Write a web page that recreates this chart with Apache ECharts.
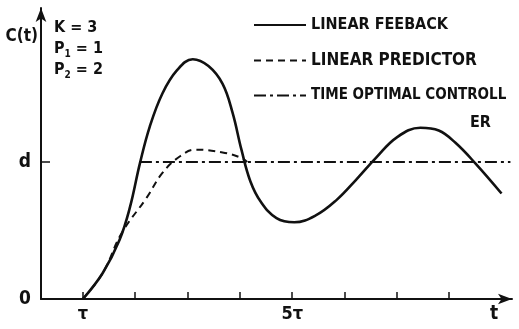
<!DOCTYPE html>
<html>
<head>
<meta charset="utf-8">
<script src="https://cdn.jsdelivr.net/npm/echarts@6/dist/echarts.min.js"></script>
<style>
  html, body { margin: 0; padding: 0; background: #fff; }
  #chart { width: 519px; height: 329px; }
</style>
</head>
<body>
<div id="chart"></div>
<script>
// t in units of tau, response in units of d
const feedback = [
  [1.0, 0], [1.38, 0.19], [1.70, 0.43], [1.90, 0.67], [2.09, 0.99], [2.28, 1.26],
  [2.52, 1.50], [2.80, 1.67], [3.10, 1.75], [3.40, 1.70], [3.67, 1.57], [3.86, 1.36],
  [4.03, 1.09], [4.20, 0.86], [4.40, 0.71], [4.70, 0.59], [5.04, 0.56], [5.45, 0.61],
  [5.84, 0.72], [6.22, 0.87], [6.60, 1.03], [7.00, 1.18], [7.45, 1.25], [7.80, 1.23],
  [8.12, 1.14], [8.50, 0.99], [9.0, 0.77]
];
const predictor = [
  [1.0, 0], [1.38, 0.19], [1.74, 0.48], [2.22, 0.74], [2.52, 0.92], [2.85, 1.04],
  [3.15, 1.09], [3.67, 1.07], [4.03, 1.03], [4.14, 1.0]
];
const timeOptimal = [[2.09, 1], [9.17, 1]];

const xTicks = [1, 2, 3, 4, 5, 6, 7, 8];
const xLabels = [1, 5];
const yLabels = [0, 1];

const FONT = '"DejaVu Sans Condensed", "Liberation Sans Narrow", sans-serif';
const INK = '#111';

const chart = echarts.init(document.getElementById('chart'));
chart.setOption({
  backgroundColor: '#fff',
  animation: false,
  title: {
    left: 49,
    top: 12,
    text: 'K = 3\nP{s|1} = 1\nP{s|2} = 2',
    textStyle: {
      fontFamily: FONT, fontSize: 16, fontWeight: 'bold', color: INK, lineHeight: 21,
      rich: { s: { fontFamily: FONT, fontSize: 10, fontWeight: 'bold', color: INK, verticalAlign: 'bottom', padding: [8, 0, 0, 0] } }
    }
  },
  legend: {
    orient: 'vertical',
    left: 253,
    top: 17,
    padding: 0,
    itemWidth: 52,
    itemHeight: 14,
    itemGap: 19,
    itemStyle: { opacity: 0 },
    textStyle: { fontFamily: FONT, fontSize: 16, fontWeight: 'bold', color: INK },
    data: [
      { name: 'LINEAR FEEBACK' },
      { name: 'LINEAR PREDICTOR', textStyle: { fontSize: 17 } },
      { name: 'TIME OPTIMAL CONTROLL', textStyle: { fontSize: 15 } }
    ]
  },
  graphic: [
    { type: 'text', left: 470, top: 115, style: { text: 'ER', fontFamily: FONT, fontSize: 16, fontWeight: 'bold', fill: INK } }
  ],
  grid: { left: 41, right: 7, top: 8, bottom: 30 },
  xAxis: {
    type: 'value',
    min: 0.2,
    max: 9.2,
    name: 't',
    nameLocation: 'end',
    nameGap: -22,
    nameTextStyle: { fontFamily: FONT, fontSize: 19, fontWeight: 'bold', color: INK, verticalAlign: 'top', padding: [6, 0, 0, 0] },
    axisLine: { lineStyle: { color: INK, width: 2 }, symbol: ['none', 'arrow'], symbolSize: [8, 14] },
    axisTick: { show: true, inside: true, length: 7, lineStyle: { color: INK, width: 1.5 }, customValues: xTicks },
    axisLabel: {
      customValues: xLabels,
      margin: 6,
      fontFamily: FONT, fontSize: 18, fontWeight: 'bold', color: INK,
      formatter: (v) => (v === 1 ? 'τ' : v + 'τ')
    },
    splitLine: { show: false }
  },
  yAxis: {
    type: 'value',
    min: 0,
    max: 2.124,
    name: 'C(t)',
    nameLocation: 'end',
    nameGap: -37,
    nameTextStyle: { fontFamily: FONT, fontSize: 17, fontWeight: 'bold', color: INK, align: 'right', padding: [0, 3, 0, 0] },
    axisLine: { show: true, lineStyle: { color: INK, width: 2 }, symbol: ['none', 'arrow'], symbolSize: [8, 14] },
    axisTick: { show: true, inside: true, length: 9, lineStyle: { color: INK, width: 1.5 }, customValues: [1] },
    axisLabel: {
      customValues: yLabels,
      margin: 10,
      fontFamily: FONT, fontSize: 19, fontWeight: 'bold', color: INK,
      formatter: (v) => (v === 1 ? 'd' : '0')
    },
    splitLine: { show: false }
  },
  series: [
    {
      name: 'LINEAR FEEBACK',
      type: 'line',
      smooth: 0.4,
      symbol: 'none',
      lineStyle: { color: INK, width: 2.6, type: 'solid' },
      itemStyle: { color: INK },
      data: feedback
    },
    {
      name: 'LINEAR PREDICTOR',
      type: 'line',
      smooth: 0.4,
      symbol: 'none',
      lineStyle: { color: INK, width: 2, type: [7, 5] },
      itemStyle: { color: INK },
      data: predictor
    },
    {
      name: 'TIME OPTIMAL CONTROLL',
      type: 'line',
      symbol: 'none',
      lineStyle: { color: INK, width: 2, type: [12, 4, 3, 4] },
      itemStyle: { color: INK },
      data: timeOptimal
    }
  ]
});
</script>
</body>
</html>
